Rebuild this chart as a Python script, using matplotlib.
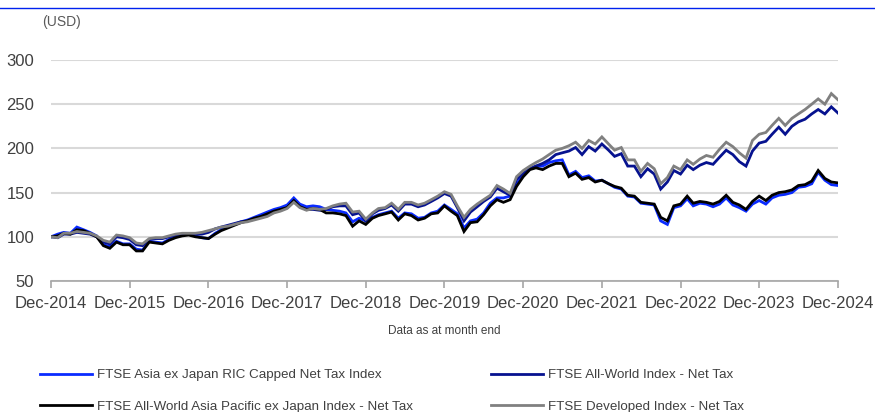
import numpy as np
import pandas as pd
import matplotlib
matplotlib.use('Agg')
import matplotlib.pyplot as plt
import matplotlib.dates as mdates
from matplotlib.lines import Line2D

plt.rcParams['font.family'] = ['Liberation Sans', 'DejaVu Sans']

# monthly index levels, Dec-2014 = 100
dates = pd.date_range('2014-12-31', periods=121, freq='ME')

asia_ric = [
    100, 103, 105, 104, 111, 108, 105, 101, 91, 89, 95, 92, 92, 86, 85, 95, 94, 93, 97, 100, 102, 103, 101, 99, 98,
    104, 108, 111, 114, 117, 119, 122, 125, 128, 131, 133, 136, 144, 137, 134, 135, 134, 131, 130, 129, 127, 117, 121, 118,
    122, 125, 127, 129, 121, 127, 126, 121, 122, 127, 129, 136, 131, 126, 110, 118, 120, 127, 138, 144, 144, 146, 160, 170,
    177, 180, 180, 184, 186, 187, 170, 174, 167, 169, 163, 164, 160, 156, 154, 146, 145, 138, 137, 136, 118, 114, 133, 135,
    143, 135, 138, 137, 134, 137, 144, 136, 133, 129, 137, 141, 137, 144, 147, 148, 150, 156, 157, 160, 173, 164, 159, 158,
]
all_world = [
    100, 99, 103, 103, 105, 104, 103, 100, 94, 92, 100, 99, 97, 91, 90, 97, 98, 98, 100, 102, 103, 103, 103, 103, 105,
    109, 111, 113, 115, 117, 118, 120, 122, 124, 128, 130, 133, 140, 134, 131, 131, 130, 131, 134, 135, 135, 125, 127, 118,
    126, 130, 132, 136, 129, 137, 137, 134, 136, 140, 144, 149, 146, 133, 118, 128, 134, 140, 145, 155, 151, 147, 165, 172,
    177, 180, 183, 187, 193, 195, 197, 201, 193, 202, 197, 205, 198, 191, 194, 180, 180, 168, 177, 171, 154, 162, 175, 171,
    181, 176, 181, 184, 182, 190, 198, 193, 185, 180, 197, 206, 208, 216, 224, 216, 225, 230, 233, 239, 244, 239, 247, 240,
]
apxj = [
    100, 101, 104, 103, 108, 107, 104, 100, 90, 87, 94, 91, 91, 84, 84, 94, 93, 92, 96, 99, 101, 102, 100, 99, 98,
    103, 107, 110, 113, 116, 118, 121, 123, 126, 129, 131, 133, 141, 134, 131, 132, 131, 127, 127, 126, 124, 112, 118, 114,
    121, 124, 126, 128, 119, 126, 124, 119, 121, 126, 127, 135, 129, 124, 106, 116, 117, 125, 135, 142, 139, 142, 157, 168,
    176, 178, 176, 180, 183, 183, 168, 172, 165, 167, 162, 164, 160, 157, 155, 147, 146, 139, 138, 137, 122, 118, 135, 137,
    146, 138, 140, 139, 137, 140, 147, 139, 136, 131, 140, 146, 141, 147, 150, 151, 153, 158, 159, 163, 175, 166, 162, 161,
]
developed = [
    100, 99, 104, 104, 106, 105, 104, 101, 96, 94, 102, 101, 99, 93, 92, 98, 99, 99, 101, 103, 104, 104, 104, 105, 107,
    109, 111, 112, 114, 116, 117, 119, 121, 123, 127, 129, 132, 139, 133, 130, 132, 131, 132, 135, 137, 138, 128, 129, 120,
    127, 132, 133, 138, 131, 139, 139, 136, 138, 142, 146, 151, 148, 135, 122, 131, 137, 142, 147, 158, 154, 149, 168, 175,
    180, 184, 188, 193, 198, 200, 203, 207, 200, 209, 205, 213, 205, 198, 201, 187, 187, 174, 183, 177, 160, 167, 180, 176,
    187, 182, 188, 192, 190, 199, 207, 202, 195, 189, 209, 216, 218, 226, 234, 226, 234, 239, 244, 250, 256, 250, 262, 255,
]

series = [
    ('FTSE Asia ex Japan RIC Capped Net Tax Index', asia_ric, '#0A2BFF'),
    ('FTSE All-World Index - Net Tax', all_world, '#06128F'),
    ('FTSE All-World Asia Pacific ex Japan Index - Net Tax', apxj, '#000000'),
    ('FTSE Developed Index - Net Tax', developed, '#808080'),
]

fig = plt.figure(figsize=(8.75, 4.12), dpi=100)
ax = fig.add_axes([51 / 875, 1 - 281 / 412, (838 - 51) / 875, (281 - 60) / 412])

lines = []
for label, vals, col in series:
    ln, = ax.plot(dates, vals, color=col, lw=2.0, label=label, solid_joinstyle='miter')
    lines.append(ln)

ax.set_ylim(50, 300)
ax.set_yticks([50, 100, 150, 200, 250, 300])
ax.set_xlim(dates[0], dates[-1])
ax.set_xticks(dates[::12])
ax.xaxis.set_major_formatter(mdates.DateFormatter('Dec-%Y'))

for s in ['top', 'right', 'left']:
    ax.spines[s].set_visible(False)
ax.spines['bottom'].set_color('#a6a6a6')
ax.spines['bottom'].set_linewidth(1.2)
ax.grid(axis='y', color='#d9d9d9', lw=1.5)
ax.set_axisbelow(True)
ax.tick_params(axis='y', length=0, pad=12, labelsize=12, labelcolor='#404040')
ax.tick_params(axis='x', length=5, width=1.2, color='#a6a6a6', pad=6,
               labelsize=12, labelcolor='#404040')
ax.set_xlabel('Data as at month end', fontsize=8.5, color='#404040', labelpad=10)

fig.text(42 / 875, 1 - 22 / 412, '(USD)', fontsize=10, color='#595959', va='center')
fig.add_artist(Line2D([0, 1], [1 - 8 / 412, 1 - 8 / 412], color='#0022EE', lw=1))

# legend reads row by row: blue, navy / black, grey
order = [0, 2, 1, 3]
fig.legend([lines[i] for i in order], [series[i][0] for i in order],
           loc='upper left', bbox_to_anchor=(40 / 875, 1 - 369 / 412), ncol=2,
           frameon=False, fontsize=9.6, handlelength=3.9, handletextpad=0.4,
           columnspacing=5.8, labelspacing=1.45, borderpad=0, borderaxespad=0,
           labelcolor='#404040')

fig.savefig('out.png', dpi=100)
